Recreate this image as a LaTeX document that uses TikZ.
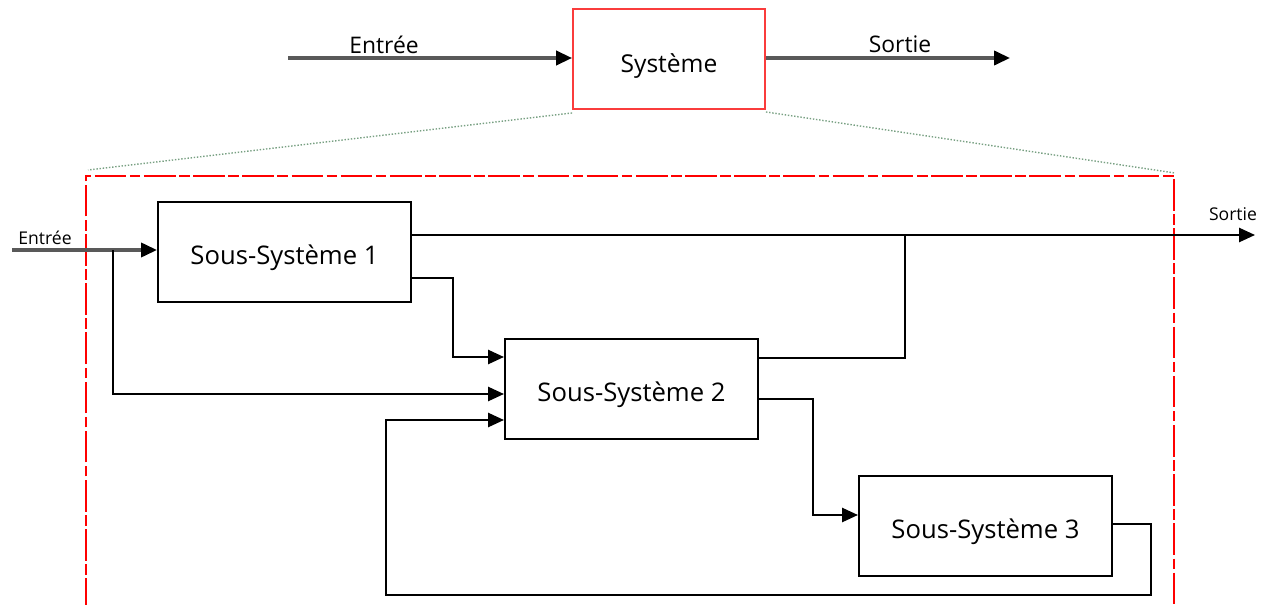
\documentclass[tikz,border=0pt]{standalone}
\usepackage{fontspec}
\setmainfont{Open Sans}
\usetikzlibrary{arrows.meta,calc}

\definecolor{sysred}{RGB}{250,60,60}
\definecolor{zoomgreen}{RGB}{120,160,130}

\tikzset{
  >={Triangle[length=9pt,width=8pt,color=black]},
  ssbox/.style={draw, line width=1.2pt, minimum width=5.06cm, minimum height=2cm, text height=18.5pt, text depth=4pt, font=\fontsize{14.6}{16}\selectfont},
  sysbox/.style={draw=sysred, line width=1.1pt, minimum width=3.84cm, minimum height=2cm, text height=19pt, text depth=4pt, font=\fontsize{14}{16}\selectfont},
  bigtxt/.style={font=\fontsize{13}{15}\selectfont},
  smalltxt/.style={font=\fontsize{10}{12}\selectfont},
  wire/.style={line width=1.2pt},
  thickwire/.style={line width=1.8pt, draw=black!65},
}

\begin{document}
\begin{tikzpicture}[x=0.02cm, y=-0.02cm]
\useasboundingbox (0,0) rectangle (1276,605);

% top level
\node (Sys) at (669,59) [sysbox] {Système};
\coordinate (in0) at (288,58);
\coordinate (out0) at (1010,58);
\node (lE) at (384,45) [bigtxt] {Entrée};
\node (lS) at (900,44) [bigtxt] {Sortie};

\draw [->, thickwire] (in0) -- (Sys.west |- in0);
\draw [->, thickwire] (Sys.east |- out0) -- (out0);

% zoom
\coordinate (dl) at (88,170);
\coordinate (dr) at (1175,173);
\draw [zoomgreen, densely dotted, line width=0.8pt] ($(Sys.south west)+(0,3)$) -- (dl);
\draw [zoomgreen, densely dotted, line width=0.8pt] ($(Sys.south east)+(0,2)$) -- (dr);
\draw [red, line width=0.9pt, dash pattern=on 18pt off 2pt on 6pt off 2pt]
  (86,610) -- (86,176) -- (1174,176) -- (1174,610);

% sub-systems
\node (SS1) at (284.5,252) [ssbox] {Sous-Système 1};
\node (SS2) at (631.5,389) [ssbox] {Sous-Système 2};
\node (SS3) at (985.5,526) [ssbox] {Sous-Système 3};

\coordinate (in1) at (12,250);
\coordinate (b1) at (113,250);
\coordinate (out1) at (1255,235);
\coordinate (j1) at (905,235);
\node (lE1) at (45,238) [smalltxt] {Entrée};
\node (lS1) at (1233,214) [smalltxt] {Sortie};

\draw [->, thickwire] (in1) -- (SS1.west |- in1);
\draw [->, wire] (b1) |- ($(SS2.west)+(0,5)$);
\draw [->, wire] ($(SS1.east)+(0,-17)$) -- (out1);
\draw [->, wire] ($(SS1.east)+(0,26)$) -- ++(41,0) |- ($(SS2.west)+(0,-32)$);
\draw [wire] ($(SS2.east)+(0,-31)$) -| (j1);
\draw [->, wire] ($(SS2.east)+(0,10)$) -- ++(54,0) |- ($(SS3.west)+(0,-11)$);
\draw [->, wire] ($(SS3.east)+(0,-2)$) -- ++(38,0) -- ++(0,71) -- ++(-765,0) |- ($(SS2.west)+(0,31)$);

\end{tikzpicture}
\end{document}
